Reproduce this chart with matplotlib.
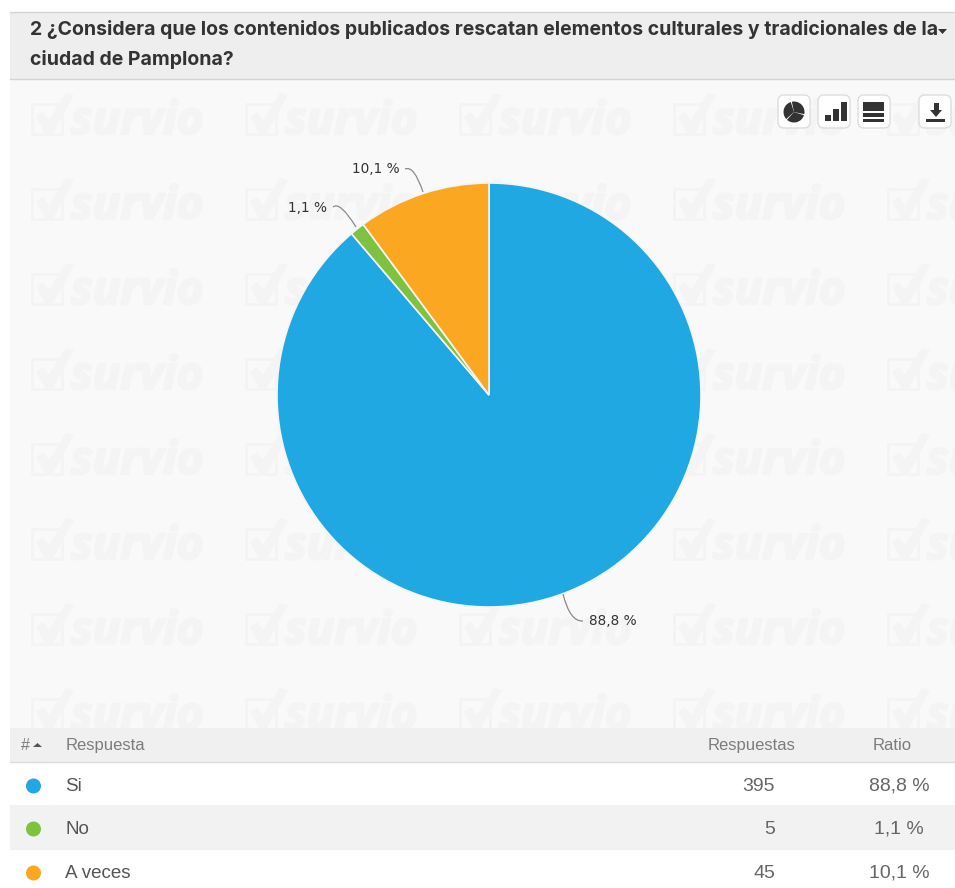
import matplotlib
matplotlib.use("Agg")
import matplotlib.pyplot as plt
import matplotlib.patheffects as pe
from matplotlib.patches import Rectangle, FancyBboxPatch, Circle, Wedge, PathPatch, Polygon
from matplotlib.path import Path

categories = ["Si", "No", "A veces"]
responses = [395, 5, 45]
ratios = ["88,8 %", "1,1 %", "10,1 %"]
colors = ["#1fa8e1", "#7fc241", "#fca722"]
title_lines = ["2 ¿Considera que los contenidos publicados rescatan elementos culturales y tradicionales de la",
               "ciudad de Pamplona?"]
headers = ["#", "Respuesta", "Respuestas", "Ratio"]

W, H = 955, 888
plt.rcParams['font.family'] = ['Liberation Sans', 'DejaVu Sans']
fig = plt.figure(figsize=(W / 100, H / 100), dpi=100, facecolor="white")
ax = fig.add_axes([0, 0, 1, 1])
ax.set_xlim(0, W)
ax.set_ylim(0, H)
ax.axis("off")
Y = lambda py: H - py

def rect(x0, y0, x1, y1, c, z=1):
    ax.add_patch(Rectangle((x0, Y(y1)), x1 - x0, y1 - y0, fc=c, ec="none", zorder=z))

# panels
rect(10, 79, W, 728, "#f9f9f9", 1)
rect(10, 12, W, 79, "#eeeeee", 1)
ax.plot([10, W], [Y(12), Y(12)], color="#d4d4d4", lw=1, zorder=2)
ax.plot([10, W], [Y(79), Y(79)], color="#d4d4d4", lw=1, zorder=2)

# watermark
wm_c = "#f4f4f4"
clip = Rectangle((10, Y(728)), W - 10, 728 - 80, transform=ax.transData)
for row in range(8):
    for col in range(5):
        x0 = 30 + 214 * col
        yb = 134 + 85 * row
        t = ax.text(x0 + 41, Y(yb), "survio", fontsize=33, fontweight="bold", style="italic",
                    family="Open Sans", color=wm_c, va="baseline", ha="left", zorder=2,
                    path_effects=[pe.withStroke(linewidth=1.6, foreground=wm_c)])
        t.set_clip_path(clip)
        box = Rectangle((x0 + 2, Y(yb)), 30, 30, fc="none", ec=wm_c, lw=2, zorder=2)
        ax.add_patch(box)
        box.set_clip_path(clip)
        chk = Polygon([(x0 + 6, Y(yb - 17)), (x0 + 15, Y(yb - 1)), (x0 + 23, Y(yb - 1)), (x0 + 44, Y(yb - 39)),
                       (x0 + 36, Y(yb - 41)), (x0 + 19, Y(yb - 14)), (x0 + 13, Y(yb - 22))],
                      fc=wm_c, ec="none", zorder=2)
        ax.add_patch(chk)
        chk.set_clip_path(clip)

# title
for line, py in zip(title_lines, [30, 60]):
    ax.text(30, Y(py), line, fontsize=14, fontweight="bold", family="Inter", color="#333333",
            va="center", ha="left", zorder=3)
ax.add_patch(Polygon([(938, Y(29)), (947, Y(29)), (942.5, Y(34))], fc="#333333", ec="none", zorder=3))

# pie
wedges, _ = ax.pie(responses, colors=colors, startangle=90, counterclock=False, center=(489, Y(395)), radius=212,
                   frame=False, wedgeprops=dict(edgecolor="#f4f4f4", linewidth=1.2, zorder=4))
ax.set_xlim(0, W)
ax.set_ylim(0, H)
ax.set_aspect("auto")

# pie labels
def leader(p0, p1, p2):
    path = Path([(p0[0], Y(p0[1])), (p1[0], Y(p1[1])), (p2[0], Y(p2[1]))], [Path.MOVETO, Path.CURVE3, Path.CURVE3])
    ax.add_patch(PathPatch(path, fc="none", ec="#8a8a8a", lw=0.9, zorder=5))

lab = dict(fontsize=9.8, family="DejaVu Sans", color="#333333", va="center", ha="left", zorder=6)
ax.text(352, Y(169), ratios[2], **lab)
leader((405, 169), (414, 165), (423, 192))
ax.text(288, Y(208), ratios[1], **lab)
leader((333, 207), (340, 201), (356, 227))
ax.text(589, Y(621), ratios[0], **lab)
leader((563, 594), (570, 622), (583, 621))

# toolbar buttons
for x0 in [778, 818, 858, 919]:
    ax.add_patch(FancyBboxPatch((x0 + 4, Y(128) + 4), 24, 25, boxstyle="round,pad=4,rounding_size=6",
                                fc="white", ec="#dddddd", lw=1, zorder=6))
ic = "#333333"
cx, cy = 794, Y(112)
for a0, a1 in [(-15, 105), (105, 225), (225, 345)]:
    ax.add_patch(Wedge((cx, cy), 10.5, a0 + 3, a1 - 3, fc=ic, ec="none", zorder=7))
for x0, h in [(825, 6), (833, 12), (841, 19)]:
    rect(x0, 121 - h, x0 + 5.5, 121, ic, 7)
rect(863, 102, 884, 111, ic, 7)
rect(863, 113, 884, 117, ic, 7)
rect(863, 119, 884, 122.5, ic, 7)
ax.add_patch(Polygon([(930, Y(110)), (942, Y(110)), (936, Y(117))], fc=ic, ec="none", zorder=7))
rect(933.5, 103, 938.5, 110, ic, 7)
rect(926, 119, 945, 122, ic, 7)

# table
rect(10, 728, W, 762, "#f0f0f0", 3)
ax.plot([10, W], [Y(762), Y(762)], color="#dcdcdc", lw=1, zorder=4)
rect(10, 762, W, 805, "white", 3)
rect(10, 805, W, 850, "#f2f2f2", 3)
rect(10, 850, W, 888, "white", 3)

hc = "#7c7c7c"
ax.text(21, Y(745), headers[0], fontsize=11.5, color=hc, va="center", ha="left", zorder=5)
ax.add_patch(Polygon([(33, Y(747)), (42, Y(747)), (37.5, Y(743))], fc="#555555", ec="none", zorder=5))
ax.text(66, Y(745), headers[1], fontsize=12, color=hc, va="center", ha="left", zorder=5)
ax.text(752, Y(745), headers[2], fontsize=12, color=hc, va="center", ha="center", zorder=5)
ax.text(892, Y(745), headers[3], fontsize=12, color=hc, va="center", ha="center", zorder=5)

row_y = [786, 829, 873]
for cat, n, r, c, py in zip(categories, responses, ratios, colors, row_y):
    ax.add_patch(Circle((33.5, Y(py)), 7.5, fc=c, ec="none", zorder=5))
    ax.text(65, Y(py), cat, fontsize=13.5, color="#555555", va="center", ha="left", zorder=5)
    ax.text(775, Y(py), str(n), fontsize=14, color="#666666", va="center", ha="right", zorder=5)
    ax.text(899, Y(py), r, fontsize=14, color="#666666", va="center", ha="center", zorder=5)

fig.savefig("out.png", dpi=100, facecolor="white")
